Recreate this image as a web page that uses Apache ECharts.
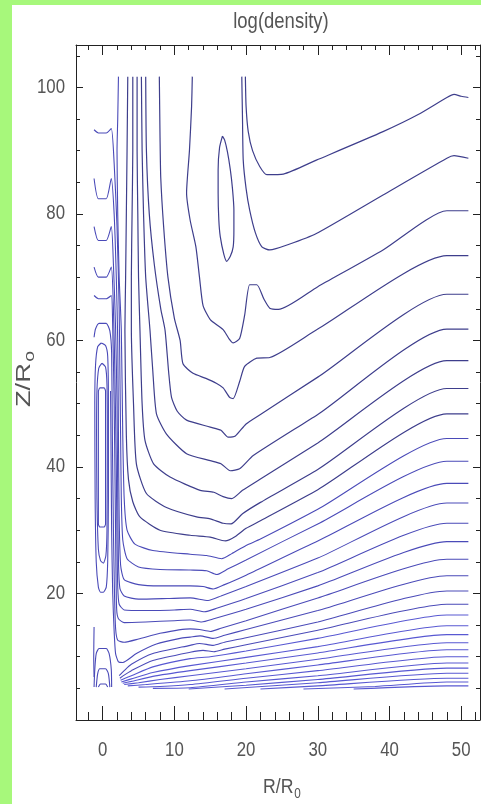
<!DOCTYPE html>
<html>
<head>
<meta charset="utf-8">
<script src="https://cdn.jsdelivr.net/npm/echarts@6/dist/echarts.min.js"></script>
<style>
html,body{margin:0;padding:0;width:481px;height:804px;background:#a7f87b;overflow:hidden;}
#panel{position:absolute;left:12px;top:5px;width:469px;height:799px;background:#ffffff;}
#chart{position:absolute;left:0;top:0;width:481px;height:804px;}
</style>
</head>
<body>
<div id="panel"></div>
<div id="chart"></div>
<script>
// ---- axis ticks ----
const xMajorTicks = [0, 10, 20, 30, 40, 50];
const xMinorTicks = [-2, 2, 4, 6, 8, 12, 14, 16, 18, 22, 24, 26, 28, 32, 34, 36, 38, 42, 44, 46, 48, 52];
const yMajorTicks = [20, 40, 60, 80, 100];
const yMinorTicks = [5, 10, 15, 25, 30, 35, 45, 50, 55, 65, 70, 75, 85, 90, 95, 105];
const xTickLabels = ['0', '10', '20', '30', '40', '50'];
const yTickLabels = ['20', '40', '60', '80', '100'];

// ---- contour lines of log(density): [R/R0, Z/R0] ----
const L1 = [[19.9,101.7],[20.0,97],[20.3,93],[20.9,90],[21.9,87.5],[22.9,86.2],[25.2,86.3],[29.8,88.5],[39.1,93],[44,95.7],[48,98.4],[49,98.9],[50,98.6],[51,98.4]];
const L2 = [[19.4,101.7],[19.5,95],[19.6,88.5],[20.0,84],[20.5,80.6],[21.3,77],[22.2,74.8],[23.3,74.3],[26,75.2],[29.8,76.9],[39.1,83],[48,88.8],[49,89.2],[51,88.8]];
const LOOP_E = [[16.7,92.3],[16.3,90.5],[16.1,87],[16.1,83.3],[16.2,79],[16.4,76.4],[16.9,73.6],[17.3,72.5],[17.8,73.3],[18.2,74.8],[18.3,77.5],[18.3,80.6],[18.1,84],[17.8,87],[17.4,89.8],[17.0,91.7],[16.7,92.3]];
const L3 = [[12.5,101.7],[12.4,97],[12.1,90],[11.7,83.3],[12.2,79],[13.0,74.8],[13.5,70],[14.0,65.5],[15,63.3],[16.8,61.7],[17.6,60.3],[18.2,59.6],[19.1,60.3],[19.8,64],[20.5,68.8],[21.5,68.8],[22.5,66.5],[23.3,65.1],[24.5,64.9],[30,68.5],[39.1,74.3],[48,80.5],[51,80.5]];
const L4 = [[7.9,101.7],[8.0,92],[8.1,85.7],[8.5,78],[9.1,70],[10.0,63.5],[10.8,60],[11.2,56.3],[12.6,54.8],[14.4,54.0],[15.9,53.2],[16.8,52.5],[17.7,51.0],[18.2,50.8],[19.1,53.5],[19.8,55.9],[21.5,57.2],[23.3,57.3],[30,61.8],[48,73.4],[51,73.4]];
const L5 = [[6.0,101.7],[6.1,90],[6.5,80],[7.2,72],[8.1,65],[8.7,61.6],[9.2,55],[9.6,51],[10.4,48.8],[11.7,47.4],[15.0,46.3],[16.5,45.8],[17.5,44.7],[18.5,44.9],[20,46.8],[22,48.3],[30,54.2],[48,67.3],[51,67.3]];
const L6 = [[5.4,101.7],[5.5,90],[5.7,80],[6.0,70],[6.6,61.6],[7.0,55],[7.5,48.4],[8.9,45.2],[11.7,42.1],[15.0,41.0],[16.5,40.5],[17.8,39.4],[19.1,39.7],[21,41.8],[30,48.3],[48,61.8],[51,61.8]];
const L7 = [[4.8,101.7],[4.8,90],[4.9,80],[5.0,70],[5.2,61.6],[5.5,50],[5.9,44.2],[7.1,40.5],[9.4,38.4],[13.6,36.3],[15.5,36.0],[16.8,35.3],[18.0,35.0],[19.5,36.3],[22,38.1],[30,43.8],[48,56.8],[51,56.8]];
const L8 = [[4.2,101.7],[4.2,90],[4.1,80],[4.0,70],[4.0,61.6],[4.3,50],[4.7,40.5],[6.1,35.8],[8.9,33.6],[13.1,32.1],[15.0,31.8],[16.8,31.1],[17.9,31.0],[19.5,32.6],[22,34.4],[30,39.6],[48,52.4],[51,52.4]];
const L9 = [[3.5,101.7],[3.4,90],[3.3,80],[3.2,70],[3.1,61.6],[3.3,45],[3.6,38],[4.2,34.5],[5.2,32.1],[8,30.0],[12.2,29.2],[15,28.9],[17.1,28.3],[18.5,29],[20,30.3],[22,31.5],[30,36.4],[48,48.4],[51,48.4]];
const L10 = [[2.2,101.7],[2.1,95],[2.0,90],[2.1,80],[2.3,70],[2.6,61.6],[2.8,45],[3.0,35],[3.4,30],[4.5,27.8],[7,26.8],[12.2,26.2],[14.5,26.0],[16.6,25.5],[18,26.3],[20,27.6],[22,28.6],[30,33.3],[48,44.5],[51,44.5]];
const L11 = [[-1.2,93.3],[-0.6,92.8],[0.5,92.8],[1.2,93.5],[1.6,88],[2.0,78],[2.3,65],[2.4,55],[2.5,45],[2.6,35],[2.8,28.5],[3.4,25.5],[5,24.2],[8,23.8],[12.2,23.7],[14.5,23.6],[15.9,23.0],[17.5,23.9],[20,25.3],[30,31.0],[48,40.9],[51,40.9]];
const L12 = [[-1.2,85.6],[-0.6,82.4],[0.5,82.4],[1.2,85.6],[1.6,80],[1.9,70],[2.1,60],[2.2,45],[2.3,32],[2.5,24.5],[3,22.2],[5,21.4],[8,21.2],[12.2,21.2],[14,21.1],[15.4,20.7],[17,21.4],[20,22.9],[30,28.3],[48,37.4],[51,37.4]];
const L13 = [[-1.2,78],[-0.6,75.8],[0.5,75.8],[1.2,78],[1.5,72],[1.8,62],[2.0,50],[2.1,35],[2.2,25],[2.4,20.8],[3,19.6],[5,19.1],[9,19.2],[12.2,19.3],[14.7,18.9],[16.5,19.6],[20,21.1],[30,25.6],[48,34.3],[51,34.3]];
const L14 = [[-1.2,71.6],[-0.6,70],[0.5,70],[1.2,71.6],[1.5,65],[1.7,55],[1.9,40],[2.0,28],[2.1,21],[2.3,18.3],[3,17.4],[6,17.3],[10,17.4],[12.2,17.5],[14.2,17.1],[16,17.7],[20,19.2],[30,23.3],[48,31.1],[51,31.1]];
const L15 = [[-1.2,67.1],[-0.6,66.6],[0.5,66.6],[1.2,67.1],[1.4,62],[1.6,50],[1.75,35],[1.85,24],[1.95,17.5],[2.2,16.0],[3,15.4],[6,15.5],[10,15.7],[12.2,15.8],[13.8,15.5],[15.5,16.0],[20,17.5],[30,21.2],[48,28.2],[51,28.2]];
const L16 = [[-1.2,60.5],[-1.0,61.8],[-0.5,62.7],[0.5,62.7],[1.0,61.5],[1.25,58],[1.35,45],[1.5,30],[1.65,20],[1.8,14.5],[2.1,12.6],[3,12.3],[5,12.8],[8,13.7],[12.2,14.4],[13.5,14.3],[15,14.0],[16.5,14.5],[20,15.7],[30,19.3],[48,25.4],[51,25.4]];
const L17 = [[1.1,52],[1.15,45],[1.25,30],[1.4,20],[1.6,14],[1.8,10.5],[2.2,9.2],[2.8,9.1],[4.7,10.5],[7.5,12.0],[10.8,12.9],[12.2,13.1],[13.6,13.3],[15.4,12.9],[17,13.4],[20,14.3],[30,17.3],[48,22.8],[51,22.8]];
const L18 = [[2.3,7.0],[3,7.8],[4,8.8],[7,10.5],[12.2,11.8],[13.5,12.1],[15.4,11.8],[17,12.3],[20,13.0],[30,15.5],[48,20.4],[51,20.4]];
const L19 = [[2.4,6.6],[3,7.1],[4,7.8],[7,9.4],[12.2,10.7],[14,11.0],[15.5,10.8],[17,11.2],[20,11.9],[30,14.2],[48,18.3],[51,18.3]];
const F1 = [[2.5,6.3],[4,7.0],[7,8.4],[12.2,9.7],[15,10.0],[20,10.9],[30,12.9],[48,16.6],[51,16.6]];
const F2 = [[2.6,6.0],[4,6.5],[7,7.5],[12.2,8.6],[20,9.9],[30,11.6],[48,14.9],[51,14.9]];
const F3 = [[2.8,5.8],[4,6.1],[7,6.9],[12.2,7.8],[20,9.0],[30,10.6],[48,13.5],[51,13.5]];
const F4 = [[3,5.6],[5,5.9],[8,6.4],[12.2,7.0],[20,8.1],[30,9.6],[48,12.2],[51,12.2]];
const F5 = [[3.5,5.4],[6,5.6],[12.2,6.2],[20,7.3],[30,8.7],[48,11.1],[51,11.1]];
const F6 = [[5,5.2],[8,5.3],[12.2,5.6],[20,6.6],[30,7.8],[48,10.0],[51,10.0]];
const F7 = [[7,5.0],[12.2,5.1],[20,6.0],[30,7.0],[48,9.0],[51,9.0]];
const F8 = [[12,4.9],[20,5.5],[30,6.4],[48,8.2],[51,8.2]];
const F9 = [[17,4.9],[30,5.9],[48,7.4],[51,7.4]];
const F10 = [[22,4.9],[30,5.4],[48,6.6],[51,6.6]];
const F11 = [[28,4.9],[38,5.3],[48,6.0],[51,6.0]];
const F12 = [[35,4.9],[48,5.4],[51,5.4]];
// closed loops around the axis
const LOOP_A = [[-0.2,59.6],[0.4,59.2],[0.7,57.5],[0.8,50],[0.8,35],[0.7,25],[0.5,21],[0.1,20.2],[-0.3,20.2],[-0.6,21],[-0.9,25],[-1.05,35],[-1.1,50],[-1.0,56],[-0.7,59.0],[-0.2,59.6]];
const LOOP_B = [[-0.1,56.4],[0.4,55.8],[0.6,53],[0.65,45],[0.6,30],[0.45,26],[0.1,24.8],[-0.3,25.2],[-0.6,27],[-0.8,35],[-0.85,45],[-0.8,52],[-0.55,55.6],[-0.1,56.4]];
const LOOP_C = [[-0.6,52],[-0.4,52.5],[0.2,52.5],[0.4,52],[0.4,31],[0.2,30.5],[-0.4,30.5],[-0.6,31],[-0.6,52]];
// small arches near the base
const BA1 = [[-1.2,5.2],[-1.1,8],[-0.9,10.5],[-0.5,11.3],[0.5,11.3],[0.9,10.5],[1.2,8],[1.25,5.2]];
const BA2 = [[-0.9,5.2],[-0.7,7.3],[-0.4,8.1],[0.4,8.1],[0.8,7.3],[1.0,5.2]];
const BA3 = [[-0.6,5.2],[-0.3,5.7],[0.4,5.7],[0.7,5.2]];
const BLV = [[-1.2,14.7],[-1.25,10],[-1.2,6.8]];

const darkLines = [L1, L2, LOOP_E, L3, L4, L5, L6, L7, L8, L9];
const midLines = [L10, L11, L12, L13, L14, L15, L16, L17, L18, L19, LOOP_A, LOOP_B, LOOP_C, BA1, BA2, BA3, BLV];
const fanLines = [F1, F2, F3, F4, F5, F6, F7, F8, F9, F10, F11, F12];

const X_MIN = -3.72, X_MAX = 52.62, Y_MIN = 0, Y_MAX = 106.7;
const FONT = '"Liberation Sans", Arial, sans-serif';
const NARROW = 0.84;
const TXT = '#555555';
const AX = '#222222';

function mk(arr, color, w) {
  return {type: 'line', data: arr, symbol: 'none', showSymbol: false, silent: true, smooth: 0.2,
    xAxisIndex: 0, yAxisIndex: 0, lineStyle: {width: w, color: color}, animation: false};
}
const series = [].concat(
  darkLines.map(a => mk(a, '#3e3e8c', 1.2)),
  midLines.map(a => mk(a, '#4a4ab8', 1.1)),
  fanLines.map(a => mk(a, '#5858d2', 1.1))
);

function xAx(pos, ticks, len, line) {
  return {type: 'value', position: pos, min: X_MIN, max: X_MAX,
    axisLine: {show: line, onZero: false, lineStyle: {color: AX, width: 1}},
    axisTick: {show: true, inside: true, length: len, customValues: ticks, lineStyle: {color: AX, width: 1}},
    axisLabel: {show: false}, splitLine: {show: false}};
}
function yAx(pos, ticks, len, line) {
  return {type: 'value', position: pos, min: Y_MIN, max: Y_MAX,
    axisLine: {show: line, onZero: false, lineStyle: {color: AX, width: 1}},
    axisTick: {show: true, inside: true, length: len, customValues: ticks, lineStyle: {color: AX, width: 1}},
    axisLabel: {show: false}, splitLine: {show: false}};
}

const chart = echarts.init(document.getElementById('chart'), null, {renderer: 'canvas'});
chart.setOption({
  backgroundColor: 'transparent',
  animation: false,
  grid: {left: 76, right: 1, top: 45, bottom: 84, containLabel: false, outerBoundsMode: 'none'},
  xAxis: [
    xAx('bottom', xMajorTicks, 14, true),
    xAx('bottom', xMinorTicks, 8, false),
    xAx('top', xMajorTicks, 10, true),
    xAx('top', xMinorTicks, 5, false)
  ],
  yAxis: [
    yAx('left', yMajorTicks, 7, true),
    yAx('left', yMinorTicks, 4, false),
    yAx('right', yMajorTicks, 7, true),
    yAx('right', yMinorTicks, 4, false)
  ],
  series: series
});

// text: tick labels, title and axis names placed through the axis scales
const gridTop = chart.convertToPixel({yAxisIndex: 0}, Y_MAX);
const gridBottom = chart.convertToPixel({yAxisIndex: 0}, Y_MIN);
const gridLeft = chart.convertToPixel({xAxisIndex: 0}, X_MIN);
const textStyle = (txt, align, vAlign, size) => ({text: txt, fill: TXT, font: size + 'px ' + FONT, textAlign: align, textVerticalAlign: vAlign});
const graphics = [];
xMajorTicks.forEach((v, i) => {
  graphics.push({type: 'text', x: chart.convertToPixel({xAxisIndex: 0}, v), y: gridBottom + 30, scaleX: NARROW,
    style: textStyle(xTickLabels[i], 'center', 'middle', 20)});
});
yMajorTicks.forEach((v, i) => {
  graphics.push({type: 'text', x: gridLeft - 11, y: chart.convertToPixel({yAxisIndex: 0}, v), scaleX: NARROW,
    style: textStyle(yTickLabels[i], 'right', 'middle', 20)});
});
graphics.push({type: 'text', x: 281, y: gridTop - 23, scaleX: NARROW,
  style: textStyle('log(density)', 'center', 'middle', 22)});
graphics.push({type: 'text', x: 282, y: gridBottom + 67, scaleX: NARROW,
  style: {text: '{a|R/R}{s|0}', fill: TXT, textAlign: 'center', textVerticalAlign: 'middle',
    rich: {a: {font: '21px ' + FONT, fill: TXT}, s: {font: '14px ' + FONT, fill: TXT, padding: [14, 0, 0, 1]}}}});
graphics.push({type: 'text', x: gridLeft - 52, y: 379, rotation: Math.PI / 2, scaleX: 1.3,
  style: {text: '{a|Z/R}{s|o}', fill: TXT, textAlign: 'center', textVerticalAlign: 'middle',
    rich: {a: {font: '21px ' + FONT, fill: TXT}, s: {font: '15px ' + FONT, fill: TXT, padding: [12, 0, 0, 1]}}}});
chart.setOption({graphic: graphics});
</script>
</body>
</html>
